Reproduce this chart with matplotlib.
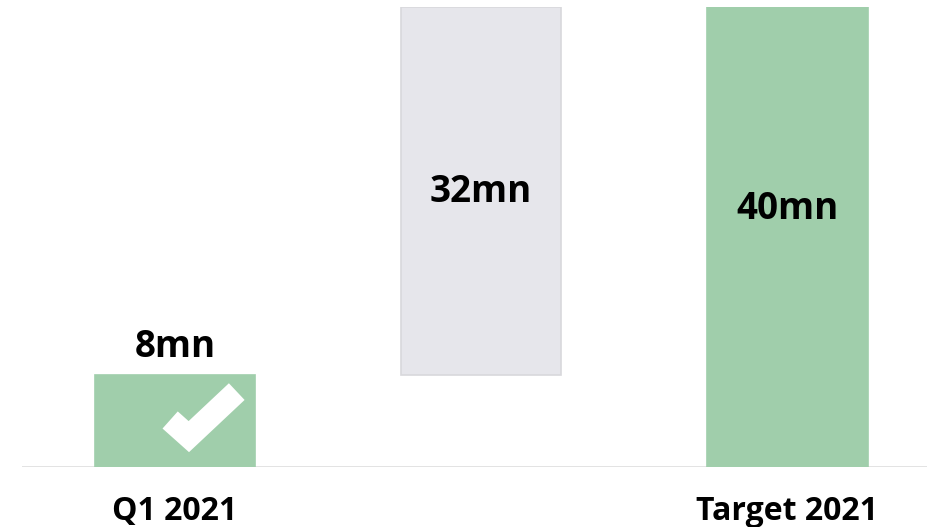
import matplotlib.pyplot as plt
from matplotlib.lines import Line2D

categories = ['Q1 2021', '', 'Target 2021']
starts = [0, 8, 0]
values = [8, 32, 40]
value_labels = ['8mn', '32mn', '40mn']

green = '#a0ceab'
grey = '#e6e6eb'

plt.rcParams['font.family'] = ['Open Sans', 'DejaVu Sans']

fig = plt.figure(figsize=(9.28, 5.27), dpi=100)
ax = fig.add_axes([22 / 928, 60.5 / 527, 906 / 928, 459.5 / 527])

x = range(len(categories))
colors = [green, grey, green]
edges = [green, '#d8d8dc', green]
ax.bar(x, values, bottom=starts, width=0.525, color=colors,
       edgecolor=edges, linewidth=1.2, zorder=2)

ax.axhline(0, color='#e0e0e0', lw=2, zorder=1)

# value labels
ax.text(0, starts[0] + values[0] + 2.4, value_labels[0], ha='center', va='center',
        fontsize=26.5, fontweight='bold')
ax.text(1, starts[1] + values[1] / 2 - 0.1, value_labels[1], ha='center', va='center',
        fontsize=26.5, fontweight='bold')
ax.text(2, values[2] * 0.56, value_labels[2], ha='center', va='center',
        fontsize=26.5, fontweight='bold')

# check mark on the first bar
check = Line2D([-0.016, 0.045, 0.2016], [4.05, 2.6, 6.52], color='white', lw=16.5,
               solid_joinstyle='miter', solid_capstyle='butt', zorder=3)
ax.add_line(check)

ax.set_xlim(-0.5, 2.46)
ax.set_ylim(0, 40)
ax.set_xticks(list(x))
ax.set_xticklabels(categories, fontsize=23, fontweight='bold')
ax.tick_params(axis='x', length=0, pad=20.5)
ax.set_yticks([])
for s in ax.spines.values():
    s.set_visible(False)

fig.savefig('out.png', dpi=100)
